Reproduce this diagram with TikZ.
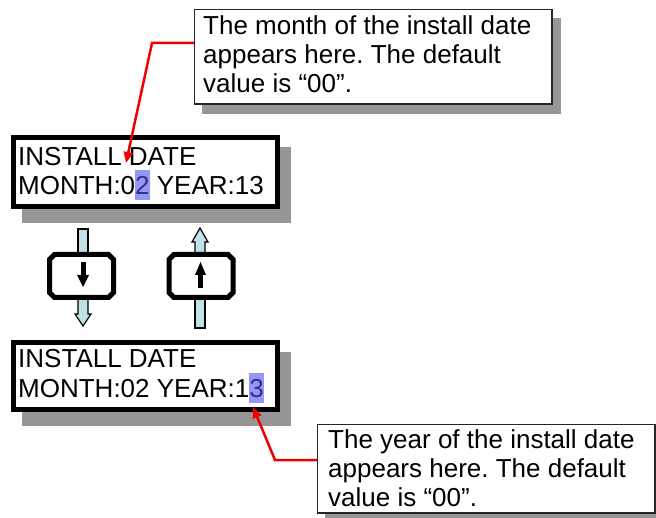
\documentclass[tikz,border=0pt]{standalone}
\usepackage{fontspec}
\setmainfont{Liberation Sans}
\usetikzlibrary{arrows.meta}
\definecolor{shadowgray}{RGB}{150,150,150}
\definecolor{hlfill}{RGB}{150,150,250}
\definecolor{hltext}{RGB}{50,50,130}
\definecolor{barcyan}{RGB}{192,226,230}
\definecolor{calred}{RGB}{240,0,0}
\newcommand\hlbox[1]{{\setlength{\fboxsep}{0pt}\colorbox{hlfill}{\rule[-5pt]{0pt}{30pt}\textcolor{hltext}{#1}}}}
\newcommand\chambtn[1]{%
  \draw[line width=5pt,fill=white] ([xshift=5pt]#1.north west) -- ([xshift=-5pt]#1.north east)
    -- ([yshift=-5pt]#1.north east) -- ([yshift=5pt]#1.south east)
    -- ([xshift=-5pt]#1.south east) -- ([xshift=5pt]#1.south west)
    -- ([yshift=5pt]#1.south west) -- ([yshift=-5pt]#1.north west) -- cycle;}
\begin{document}
\frenchspacing
\begin{tikzpicture}[x=1pt,y=-1pt,font=\fontsize{26}{29}\selectfont,
  lcd/.style={draw,line width=5pt,fill=white,inner sep=0pt,anchor=north west},
  callout/.style={draw=black!85,line width=1.5pt,fill=white,inner sep=0pt,anchor=north west},
  txt/.style={inner sep=0pt,anchor=base west},
  pointer/.style={draw=calred,line width=2.5pt,-{Triangle[length=11pt,width=9pt]}},
  btn/.style={rectangle,inner sep=0pt,outer sep=0pt,minimum width=64pt,minimum height=43pt},
  bar/.style={fill=barcyan,draw,line width=1.2pt},
  shade/.style={fill=shadowgray}]
\useasboundingbox (0,0) rectangle (656,518);
% shadows
\fill[shade] (22,147) rectangle (291,223);
\fill[shade] (22,352) rectangle (291,426);
\fill[shade] (202,18) rectangle (561,114);
\fill[shade] (325,433) rectangle (656,518);
% LCD boxes
\node[lcd,minimum width=264pt,minimum height=69pt] (lcd1) at (10.5,135.5) {};
\node[lcd,minimum width=264pt,minimum height=67pt] (lcd2) at (10.5,340.5) {};
\node[txt] (l1a) at (18,166) {INSTALL DATE};
\node[txt] (l1b) at (18,195) {MONTH:0\hlbox{2} YEAR:13};
\node[txt] (l2a) at (18,368) {INSTALL DATE};
\node[txt] (l2b) at (18,398) {MONTH:02 YEAR:1\hlbox{3}};
% callouts
\node[callout,minimum width=357.5pt,minimum height=94.5pt] (c1) at (193.75,8.75) {};
\node[txt] (c1a) at (203,35) {The month of the install date};
\node[txt] (c1b) at (203,64) {appears here. The default};
\node[txt] (c1c) at (203,93) {value is “00”.};
\node[callout,minimum width=337.5pt,minimum height=88.5pt] (c2) at (316.75,423.75) {};
\node[txt] (c2a) at (328,448) {The year of the install date};
\node[txt] (c2b) at (328,477) {appears here. The default};
\node[txt] (c2c) at (328,506) {value is “00”.};
% pointers
\coordinate (k1) at (152,43);
\coordinate (p1) at (126,163);
\draw[pointer] (c1.west |- k1) -- (k1) -- (p1);
\coordinate (k2) at (275,460);
\coordinate (p2) at (253,407);
\draw[pointer] (c2.west |- k2) -- (k2) -- (p2);
% bars
\draw[bar] (78,229) rectangle (88,256);
\draw[bar] (78,296) -- (78,314) -- (75,314) -- (83,326) -- (91,314) -- (88,314) -- (88,296) -- cycle;
\draw[bar] (195,256) -- (195,242) -- (192,242) -- (200,228) -- (208,242) -- (205,242) -- (205,256) -- cycle;
\draw[bar] (195,296) rectangle (205,328);
% buttons
\node[btn] (b1) at (81.5,276) {};
\node[btn] (b2) at (201,276) {};
\chambtn{b1}
\chambtn{b2}
\fill (80.5,262) rectangle (85.5,276);
\fill (77,275) -- (89,275) -- (83,287) -- cycle;
\fill (198,274) rectangle (203,288);
\fill (195,275) -- (206,275) -- (200.5,262) -- cycle;
\end{tikzpicture}
\end{document}
